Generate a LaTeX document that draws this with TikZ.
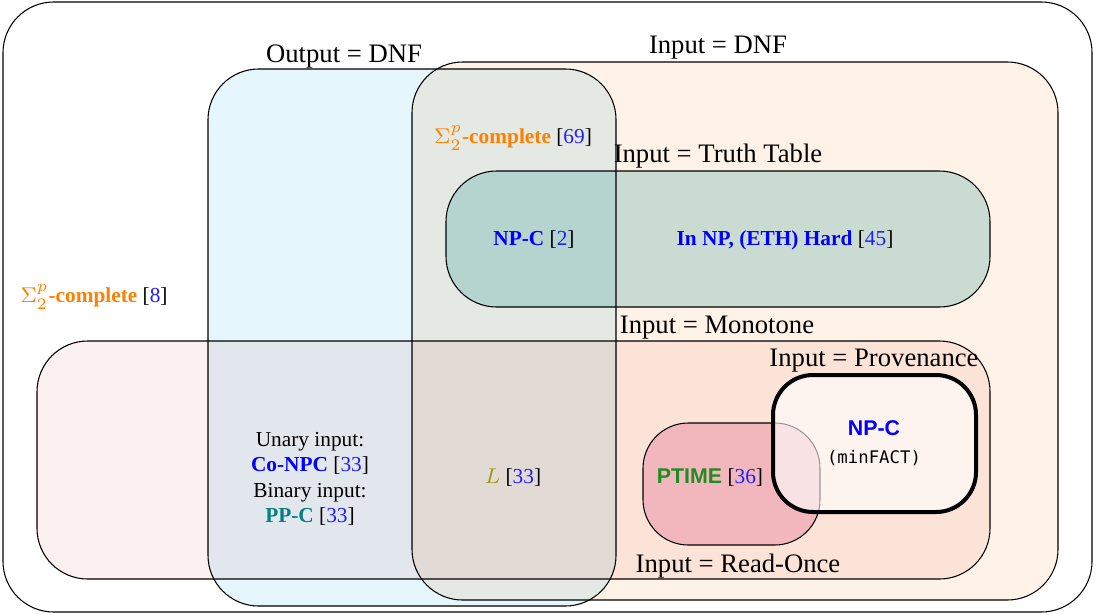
\documentclass[tikz,border=0pt]{standalone}
\usepackage{fontspec}
\setmainfont{Liberation Serif}
\setsansfont{Liberation Sans}
\setmonofont{DejaVu Sans Mono}
\usetikzlibrary{positioning}

\definecolor{outblue}{RGB}{229,246,252}
\definecolor{inorange}{RGB}{255,242,230}
\definecolor{truthteal}{RGB}{202,231,233}
\definecolor{monopink}{RGB}{252,240,240}
\definecolor{oncered}{RGB}{244,206,224}
\definecolor{hardorange}{RGB}{255,128,0}
\definecolor{npblue}{RGB}{0,0,255}
\definecolor{refblue}{RGB}{30,30,255}
\definecolor{ppteal}{RGB}{0,128,128}
\definecolor{logolive}{RGB}{160,150,20}
\definecolor{ptgreen}{RGB}{34,139,34}

\newcommand{\rf}[1]{[\textcolor{refblue}{#1}]}

\begin{document}
\begin{tikzpicture}[x=0.375pt, y=-0.375pt]
            \tikzstyle{region}=[draw=black, rounded corners=19pt]
            \tikzstyle{settitle}=[font=\normalsize, anchor=base, inner sep=0pt]
            \tikzstyle{finding}=[font=\footnotesize, anchor=base, inner sep=0pt]

            \useasboundingbox (0,0) rectangle (1107,614);

            \draw[rounded corners=19pt] (3,2) rectangle (1092,612);
            \begin{scope}[blend mode=multiply]
              \path[region, fill=outblue] (208,69) rectangle (616,606);
              \path[region, fill=inorange] (412,62) rectangle (1058,600);
              \path[region, fill=truthteal] (446,171) rectangle (990,307);
              \path[region, fill=monopink] (37,341) rectangle (990,579);
              \path[region, fill=oncered, rounded corners=17pt] (643,423) rectangle (820,545);
            \end{scope}
            \path[region, fill=white, fill opacity=0.6, line width=1.5pt, rounded corners=15pt] (773,375) rectangle (976,512);

            \node[settitle] (outdnf) at (344,62) {Output = DNF};
            \node[settitle] (indnf) at (718,53) {Input = DNF};
            \node[settitle] (truth) at (718,162) {Input = Truth Table};
            \node[settitle] (mono) at (717,333) {Input = Monotone};
            \node[settitle] (prov) at (874,366) {Input = Provenance};
            \node[settitle] (ronce) at (738,572) {Input = Read-Once};

            \node[finding, anchor=base west] (sigmono) at (20,302) {\textcolor{hardorange}{$\Sigma_2^p$\textbf{-complete}} \rf{8}};
            \node[finding] (sigdnf) at (513,143) {\textcolor{hardorange}{$\Sigma_2^p$\textbf{-complete}} \rf{69}};
            \node[finding] (npc) at (534,245) {\textcolor{npblue}{\textbf{NP-C}} \rf{2}};
            \node[finding] (eth) at (785,245) {\textcolor{npblue}{\textbf{In NP, (ETH) Hard}} \rf{45}};
            \node[finding, anchor=center, align=center] (unary) at (310,479) {Unary input:\\ \textcolor{npblue}{\textbf{Co-NPC}} \rf{33}\\ Binary input:\\ \textcolor{ppteal}{\textbf{PP-C}} \rf{33}};
            \node[finding] (logspace) at (513,483) {\textcolor{logolive}{$L$} \rf{33}};
            \node[finding] (ptime) at (710,483) {\textcolor{ptgreen}{\sffamily\bfseries PTIME} \rf{36}};
            \node[finding] (minnp) at (874,435) {\textcolor{npblue}{\sffamily\bfseries NP-C}};
            \node[finding, font=\fontsize{6.5pt}{8pt}\selectfont] (minfact) at (874,463) {\texttt{(minFACT)}};

          \end{tikzpicture}
\end{document}
